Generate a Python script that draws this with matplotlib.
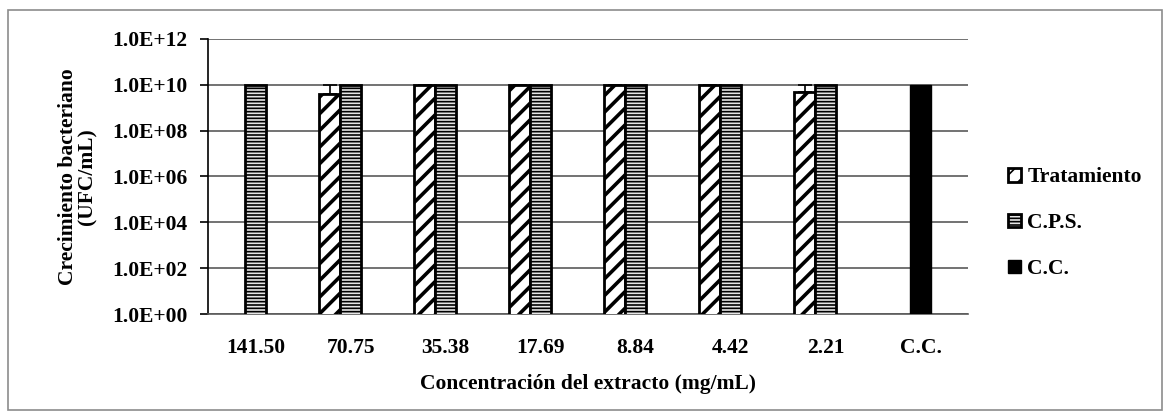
import numpy as np
import matplotlib.pyplot as plt
from matplotlib.patches import Rectangle
from matplotlib.ticker import FixedLocator, FuncFormatter

plt.rcParams['font.family'] = ['Liberation Serif', 'DejaVu Serif']
plt.rcParams['font.weight'] = 'bold'

# =========================================================
# DATA
# =========================================================
categories = ["141.50", "70.75", "35.38", "17.69", "8.84", "4.42", "2.21", "C.C."]
tratamiento = [np.nan, 4.0e9, 1e10, 1e10, 1e10, 1e10, 5.0e9, np.nan]
tratamiento_err = [0, 6.0e9, 0, 0, 0, 0, 5.0e9, 0]
cps = [1e10, 1e10, 1e10, 1e10, 1e10, 1e10, 1e10, np.nan]
cc = [np.nan, np.nan, np.nan, np.nan, np.nan, np.nan, np.nan, 1e10]
y_ticks = [1e0, 1e2, 1e4, 1e6, 1e8, 1e10, 1e12]

FS = 15.5

# =========================================================
# PLOT
# =========================================================
fig = plt.figure(figsize=(11.7, 4.17), dpi=100)
ax = fig.add_axes([0.1778, 0.247, 0.6496, 0.6595])

x = np.arange(len(categories))
w = 0.22

plt.rcParams['hatch.linewidth'] = 2.6
ax.bar(x - w, tratamiento, w, color="white", edgecolor="black", hatch="//",
       linewidth=2.0, label="Tratamiento", zorder=3)

err = np.array([np.zeros(len(tratamiento_err)), tratamiento_err])
ax.errorbar(x - w, tratamiento, yerr=err, fmt="none", ecolor="black",
            elinewidth=1.2, capsize=5, capthick=1.2, zorder=4)

plt.rcParams['hatch.linewidth'] = 1.2
ax.bar(x, cps, w, color="#e6e6e6", edgecolor="black", hatch="-----",
       linewidth=2.0, label="C.P.S.", zorder=3)
ax.bar(x, cc, w, color="black", edgecolor="black", label="C.C.", zorder=3)

ax.set_yscale("log")
ax.set_ylim(1, 1e12)
ax.set_xlim(-0.5, len(categories) - 0.5)
ax.yaxis.set_major_locator(FixedLocator(y_ticks))
ax.yaxis.set_minor_locator(FixedLocator([]))
ax.yaxis.set_major_formatter(FuncFormatter(lambda v, p: f"{v:.1E}"))
ax.grid(axis="y", color="#5a5a5a", linewidth=1.2, zorder=0)

ax.set_xticks(x)
ax.set_xticklabels(categories, fontsize=FS, fontweight="bold")
ax.tick_params(axis="x", length=0, pad=17)
ax.tick_params(axis="y", labelsize=FS, length=6, width=1.2, direction="out", pad=9)

for s in ["top", "right"]:
    ax.spines[s].set_visible(False)
ax.spines["left"].set_color("black")
ax.spines["left"].set_linewidth(1.2)
ax.spines["bottom"].set_color("#5a5a5a")
ax.spines["bottom"].set_linewidth(1.2)

ax.set_ylabel("Crecimiento bacteriano\n(UFC/mL)", fontsize=FS, fontweight="bold",
              labelpad=10, linespacing=1.0)
ax.set_xlabel("Concentración del extracto (mg/mL)", fontsize=FS, fontweight="bold", labelpad=12)

leg = fig.legend(loc="center left", bbox_to_anchor=(0.845, 0.465), frameon=False,
                 fontsize=FS, handlelength=0.6, handleheight=0.6, handletextpad=0.3,
                 labelspacing=1.2)
for t in leg.get_texts():
    t.set_fontweight("bold")

fig.patches.append(Rectangle((0.007, 0.017), 0.986, 0.96, transform=fig.transFigure,
                             fill=False, edgecolor="#8c8c8c", linewidth=1.2))

fig.savefig("out.png", dpi=100)
